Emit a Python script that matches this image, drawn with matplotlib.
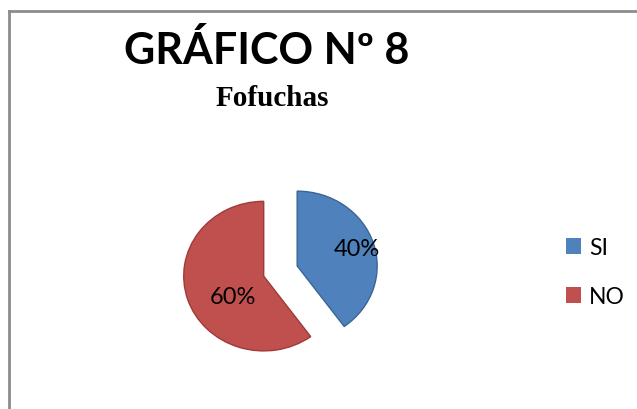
import matplotlib
matplotlib.use('Agg')
import matplotlib.pyplot as plt
from matplotlib.lines import Line2D
from matplotlib.patches import Patch

# Chart data
labels = ['SI', 'NO']
values = [40, 60]
colors = ['#4F81BD', '#C0504D']
edge_colors = ['#3A6595', '#9E3B38']

fig = plt.figure(figsize=(6.37, 4.10), dpi=100)
fig.patch.set_facecolor('white')

# Left and top frame lines
fig.add_artist(Line2D([9 / 637, 9 / 637], [0, 1 - 12 / 410], color='#8c8c8c', lw=2))
fig.add_artist(Line2D([9 / 637, 1], [1 - 12 / 410, 1 - 12 / 410], color='#8c8c8c', lw=2))

# Titles
fig.text(267 / 637, 1 - 51 / 410, 'GRÁFICO Nº 8', ha='center', va='center',
         fontsize=31, fontweight='bold', family='Lato')
fig.text(272 / 637, 1 - 98 / 410, 'Fofuchas', ha='center', va='center',
         fontsize=21, fontweight='bold', family='Liberation Serif')

# Pie (slightly flattened like the tilted original)
ax = fig.add_axes([0.277, 0.083, 0.3265, 0.507])
wedges, texts, autotexts = ax.pie(values, colors=colors, startangle=90, counterclock=False,
                                  explode=[0.22, 0.22], autopct='%1.0f%%', pctdistance=0.75,
                                  wedgeprops=dict(linewidth=1))
for w, ec in zip(wedges, edge_colors):
    w.set_edgecolor(ec)
ax.set_xlim(-1.3, 1.3)
ax.set_ylim(-1.3, 1.3)
ax.set_aspect(0.935)
ax.axis('off')

# Percentage label placement
autotexts[0].set_position((0.96, 0.30))
autotexts[1].set_position((-0.60, -0.34))
for t in autotexts:
    t.set_fontsize(17)
    t.set_family('Lato')
    t.set_color('black')

# Legend
handles = [Patch(facecolor=c, edgecolor='none') for c in colors]
fig.legend(handles, labels, loc='center left', bbox_to_anchor=(545 / 637, 1 - 273 / 410),
           frameon=False, prop={'family': 'Lato', 'size': 16.5},
           handlelength=0.68, handleheight=0.68, handletextpad=0.35, labelspacing=1.2)

fig.savefig('out.png', dpi=100)
